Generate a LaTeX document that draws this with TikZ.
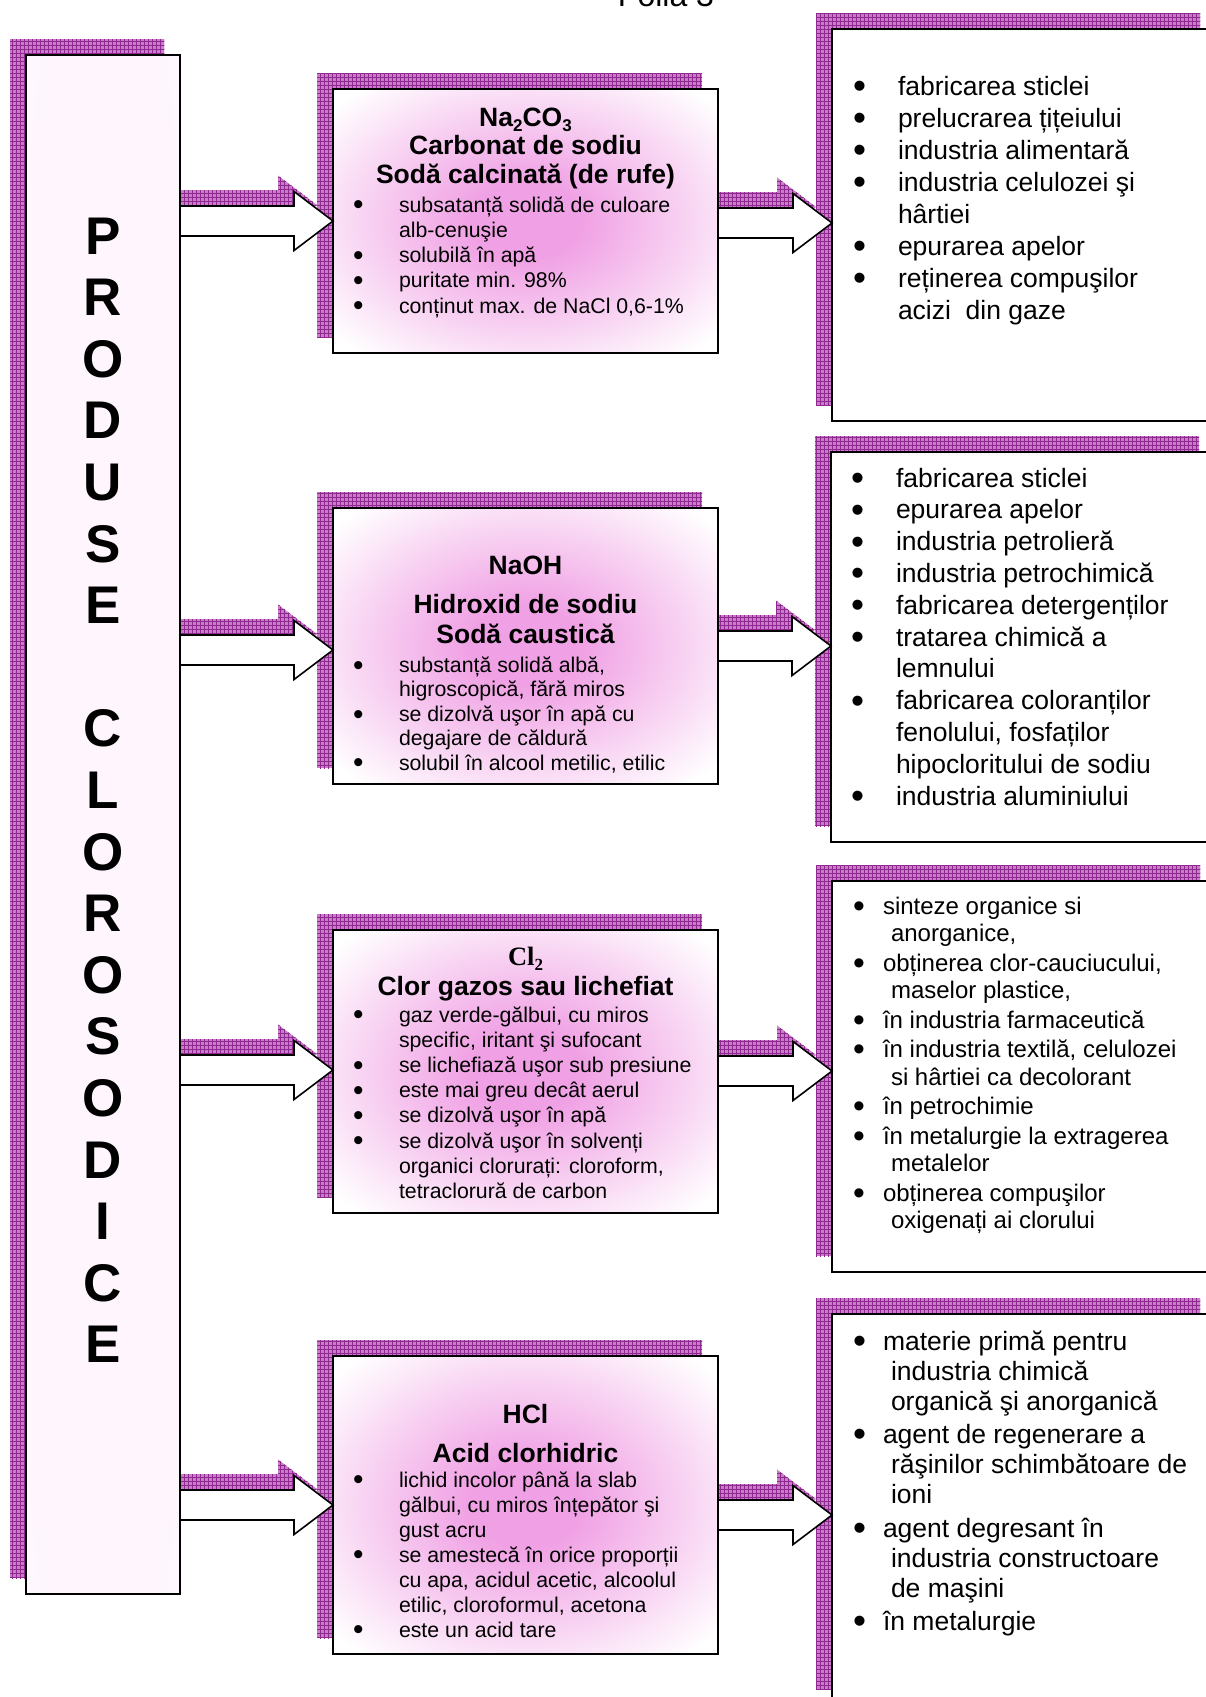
\documentclass[tikz,border=0pt]{standalone}
\usepackage{graphicx}
\usepackage{fontspec}
\setmainfont{Liberation Sans}
\newfontfamily\timesf{Liberation Serif}
\usetikzlibrary{calc,backgrounds,patterns.meta}

\definecolor{shadowbase}{RGB}{198,126,198}
\definecolor{gridcol}{RGB}{145,40,145}
\definecolor{glowc}{RGB}{240,160,228}
\definecolor{faintc}{RGB}{254,245,253}

\pgfdeclareradialshading{pinkglow}{\pgfpoint{0bp}{0bp}}{color(0bp)=(glowc); color(7bp)=(glowc); color(33bp)=(white); color(50bp)=(white)}
\pgfdeclareradialshading{faintglow}{\pgfpoint{0bp}{0bp}}{color(0bp)=(faintc); color(30bp)=(faintc); color(45bp)=(white); color(50bp)=(white)}

\tikzdeclarepattern{
  name=pgrid,
  type=uncolored,
  bounding box={(-1pt,-1pt) and (5pt,5pt)},
  tile size={(4pt,4pt)},
  code={
    \pgfsetlinewidth{0.5pt}
    \pgfpathmoveto{\pgfqpoint{-1pt}{0pt}}\pgfpathlineto{\pgfqpoint{5pt}{0pt}}
    \pgfpathmoveto{\pgfqpoint{0pt}{-1pt}}\pgfpathlineto{\pgfqpoint{0pt}{5pt}}
    \pgfusepath{stroke}
  }
}

\newcommand\bul[1]{\makebox[#1][l]{\smash{\raisebox{-0.13em}{\scalebox{1.4}{\textbullet}}}}}
\newcommand\ind[1]{\hspace*{#1}}
\newcommand\chemsub[1]{\raisebox{-0.22em}{\fontsize{17}{17}\selectfont #1}}

% #1 options, #2 start point, #3 tip point, #4 x offset, #5 y offset
\newcommand\blockarrow[5]{%
  \path[#1] let \p1=(#2), \p2=(#3) in
   (\x1+#4,\y2+15pt+#5) -- (\x2-39pt+#4,\y2+15pt+#5) -- (\x2-39pt+#4,\y2+29.5pt+#5) -- (\x2+#4,\y2+#5)
   -- (\x2-39pt+#4,\y2-29.5pt+#5) -- (\x2-39pt+#4,\y2-15pt+#5) -- (\x1+#4,\y2-15pt+#5) -- cycle;}

\tikzset{
  shadowfill/.style={fill=shadowbase, postaction={pattern=pgrid, pattern color=gridcol}},
  boxbase/.style={draw=black, line width=1.8pt, anchor=north west, inner sep=0pt, outer sep=0pt},
  mbox/.style={boxbase, shade, shading=pinkglow, minimum width=385pt},
  rbox/.style={boxbase, fill=white, minimum width=384pt},
  arrowst/.style={fill=white, draw=black, line width=1.6pt, line join=miter},
  txt/.style={anchor=base west, inner sep=0pt, outer sep=0pt},
  ttl/.style={anchor=base, inner sep=0pt, outer sep=0pt},
  shd/.style={shift={(-16pt,16pt)}}
}

\begin{document}
\begin{tikzpicture}[x=1pt, y=-1pt]
\useasboundingbox (0,0) rectangle (1206,1697);
\clip (0,0) rectangle (1206,1697);

% page header (cut off at the top, as in the original)
\node[ttl] (folia) at (666,6) {\fontsize{32}{32}\selectfont Folia 3};

% boxes
\node[boxbase, shade, shading=faintglow, minimum width=154pt, minimum height=1539pt] (L) at (26,55) {};
\node[mbox, minimum height=264pt] (m1) at (333,89) {};
\node[mbox, minimum height=276pt] (m2) at (333,508) {};
\node[mbox, minimum height=283pt] (m3) at (333,930) {};
\node[mbox, minimum height=298pt] (m4) at (333,1356) {};
\node[rbox, minimum height=392pt] (R1) at (832,29) {};
\node[rbox, minimum height=390pt] (R2) at (831,452) {};
\node[rbox, minimum height=391pt] (R3) at (832,881) {};
\node[rbox, minimum height=391pt] (R4) at (832,1314) {};

% arrow rows
\coordinate (ra1) at (0,221);
\coordinate (ra2) at (0,650);
\coordinate (ra3) at (0,1070);
\coordinate (ra4) at (0,1505);
\coordinate (rb1) at (0,223);
\coordinate (rb2) at (0,646);
\coordinate (rb3) at (0,1071);
\coordinate (rb4) at (0,1515);

% shadows
\begin{pgfonlayer}{background}
  \foreach \n in {L,m1,m2,m3,m4,R1,R2,R3,R4}{
    \path[shadowfill] ([shd]\n.north west) rectangle ([shd]\n.south east);
  }
  \blockarrow{shadowfill}{L.east |- ra1}{m1.west |- ra1}{-16pt}{16pt}
  \blockarrow{shadowfill}{L.east |- ra2}{m2.west |- ra2}{-16pt}{16pt}
  \blockarrow{shadowfill}{L.east |- ra3}{m3.west |- ra3}{-16pt}{16pt}
  \blockarrow{shadowfill}{L.east |- ra4}{m4.west |- ra4}{-16pt}{16pt}
  \blockarrow{shadowfill}{m1.east |- rb1}{R1.west |- rb1}{-16pt}{16pt}
  \blockarrow{shadowfill}{m2.east |- rb2}{R2.west |- rb2}{-16pt}{16pt}
  \blockarrow{shadowfill}{m3.east |- rb3}{R3.west |- rb3}{-16pt}{16pt}
  \blockarrow{shadowfill}{m4.east |- rb4}{R4.west |- rb4}{-16pt}{16pt}
\end{pgfonlayer}

% arrows
\blockarrow{arrowst}{L.east |- ra1}{m1.west |- ra1}{0pt}{0pt}
\blockarrow{arrowst}{L.east |- ra2}{m2.west |- ra2}{0pt}{0pt}
\blockarrow{arrowst}{L.east |- ra3}{m3.west |- ra3}{0pt}{0pt}
\blockarrow{arrowst}{L.east |- ra4}{m4.west |- ra4}{0pt}{0pt}
\blockarrow{arrowst}{m1.east |- rb1}{R1.west |- rb1}{0pt}{0pt}
\blockarrow{arrowst}{m2.east |- rb2}{R2.west |- rb2}{0pt}{0pt}
\blockarrow{arrowst}{m3.east |- rb3}{R3.west |- rb3}{0pt}{0pt}
\blockarrow{arrowst}{m4.east |- rb4}{R4.west |- rb4}{0pt}{0pt}

% vertical title
\node[ttl] (vtitle) at (103,254) {\parbox[t]{120pt}{\centering\fontsize{53}{61.6}\selectfont\bfseries
P\\R\\O\\D\\U\\S\\E\\[61.6pt]C\\L\\O\\R\\O\\S\\O\\D\\I\\C\\E}};

% middle box 1
\node[ttl] (m1h) at (525.5,126) {\parbox[t]{380pt}{\centering\fontsize{26.5}{28.7}\selectfont\bfseries
Na\chemsub{2}CO\chemsub{3}\\Carbonat de sodiu\\Sodă calcinată (de rufe)}};
\node[txt] (m1t) at (353,212) {\parbox[t]{380pt}{\raggedright\fontsize{21.3}{25.25}\selectfont
\bul{46pt}subsatanță solidă de culoare\\
\ind{46pt}alb-cenuşie\\
\bul{46pt}solubilă în apă\\
\bul{46pt}puritate min. 98\%\\
\bul{46pt}conținut max. de NaCl 0,6-1\%}};

% middle box 2
\node[ttl] (m2h) at (525.5,574) {\parbox[t]{380pt}{\centering\fontsize{26.5}{30}\selectfont\bfseries
NaOH\\[9pt]Hidroxid de sodiu\\Sodă caustică}};
\node[txt] (m2t) at (353,672.5) {\parbox[t]{380pt}{\raggedright\fontsize{21.3}{24.4}\selectfont
\bul{46pt}substanță solidă albă,\\
\ind{46pt}higroscopică, fără miros\\
\bul{46pt}se dizolvă uşor în apă cu\\
\ind{46pt}degajare de căldură\\
\bul{46pt}solubil în alcool metilic, etilic}};

% middle box 3
\node[ttl] (m3h) at (525.5,965) {\parbox[t]{380pt}{\centering\fontsize{26.5}{30}\selectfont\bfseries
{\timesf\bfseries Cl\chemsub{2}}\\Clor gazos sau lichefiat}};
\node[txt] (m3t) at (353,1022) {\parbox[t]{380pt}{\raggedright\fontsize{21.3}{25.2}\selectfont
\bul{46pt}gaz verde-gălbui, cu miros\\
\ind{46pt}specific, iritant şi sufocant\\
\bul{46pt}se lichefiază uşor sub presiune\\
\bul{46pt}este mai greu decât aerul\\
\bul{46pt}se dizolvă uşor în apă\\
\bul{46pt}se dizolvă uşor în solvenți\\
\ind{46pt}organici clorurați: cloroform,\\
\ind{46pt}tetraclorură de carbon}};

% middle box 4
\node[ttl] (m4h) at (525.5,1423) {\parbox[t]{380pt}{\centering\fontsize{26.5}{30}\selectfont\bfseries
HCl\\[9pt]Acid clorhidric}};
\node[txt] (m4t) at (353,1487) {\parbox[t]{380pt}{\raggedright\fontsize{21.3}{25}\selectfont
\bul{46pt}lichid incolor până la slab\\
\ind{46pt}gălbui, cu miros înțepător şi\\
\ind{46pt}gust acru\\
\bul{46pt}se amestecă în orice proporții\\
\ind{46pt}cu apa, acidul acetic, alcoolul\\
\ind{46pt}etilic, cloroformul, acetona\\
\bul{46pt}este un acid tare}};

% right box 1
\node[txt] (r1t) at (853,95) {\parbox[t]{360pt}{\raggedright\fontsize{26.5}{32}\selectfont
\bul{45pt}fabricarea sticlei\\
\bul{45pt}prelucrarea țițeiului\\
\bul{45pt}industria alimentară\\
\bul{45pt}industria celulozei şi\\
\ind{45pt}hârtiei\\
\bul{45pt}epurarea apelor\\
\bul{45pt}reținerea compuşilor\\
\ind{45pt}acizi\ \ din gaze}};

% right box 2
\node[txt] (r2t) at (851,487) {\parbox[t]{360pt}{\raggedright\fontsize{26.5}{31.8}\selectfont
\bul{45pt}fabricarea sticlei\\
\bul{45pt}epurarea apelor\\
\bul{45pt}industria petrolieră\\
\bul{45pt}industria petrochimică\\
\bul{45pt}fabricarea detergenților\\
\bul{45pt}tratarea chimică a\\
\ind{45pt}lemnului\\
\bul{45pt}fabricarea coloranților\\
\ind{45pt}fenolului, fosfaților\\
\ind{45pt}hipocloritului de sodiu\\
\bul{45pt}industria aluminiului}};

% right box 3
\node[txt] (r3t) at (853,914) {\parbox[t]{360pt}{\raggedright\fontsize{24}{27.5}\selectfont
\bul{30pt}sinteze organice si\\
\ind{38pt}anorganice,\\[2pt]
\bul{30pt}obținerea clor-cauciucului,\\
\ind{38pt}maselor plastice,\\[2pt]
\bul{30pt}în industria farmaceutică\\[2pt]
\bul{30pt}în industria textilă, celulozei\\
\ind{38pt}si hârtiei ca decolorant\\[2pt]
\bul{30pt}în petrochimie\\[2pt]
\bul{30pt}în metalurgie la extragerea\\
\ind{38pt}metalelor\\[2pt]
\bul{30pt}obținerea compuşilor\\
\ind{38pt}oxigenați ai clorului}};

% right box 4
\node[txt] (r4t) at (853,1350) {\parbox[t]{360pt}{\raggedright\fontsize{26.5}{30}\selectfont
\bul{30pt}materie primă pentru\\
\ind{38pt}industria chimică\\
\ind{38pt}organică şi anorganică\\[3.5pt]
\bul{30pt}agent de regenerare a\\
\ind{38pt}răşinilor schimbătoare de\\
\ind{38pt}ioni\\[3.5pt]
\bul{30pt}agent degresant în\\
\ind{38pt}industria constructoare\\
\ind{38pt}de maşini\\[3.5pt]
\bul{30pt}în metalurgie}};

\end{tikzpicture}
\end{document}
